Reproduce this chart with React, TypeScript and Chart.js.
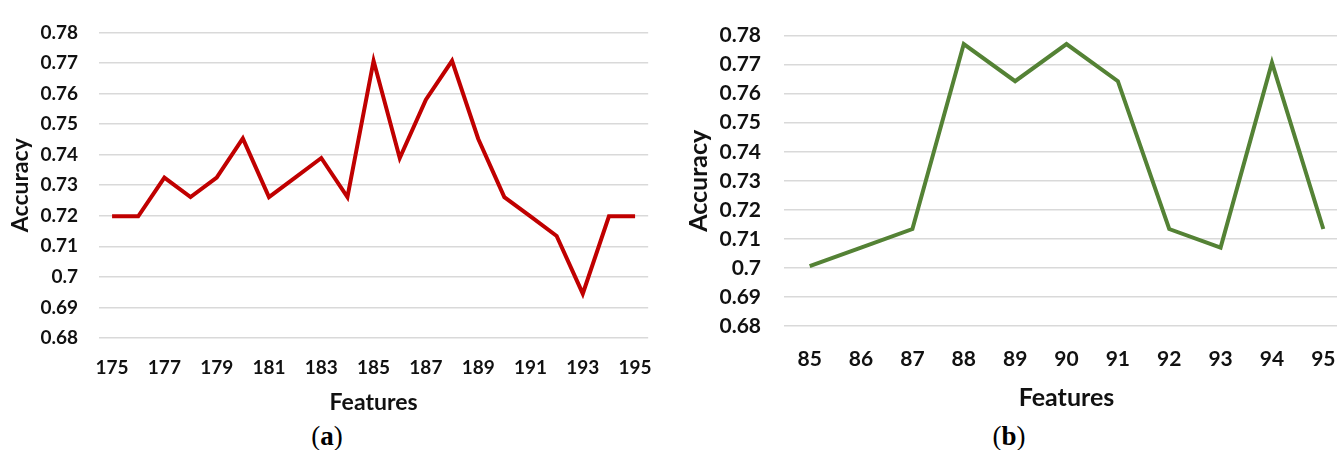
import React, { useEffect, useRef } from 'react';
import { Chart, registerables } from 'chart.js';

Chart.register(...registerables);

// ---- Data ----
const featuresA = ['175', '176', '177', '178', '179', '180', '181', '182', '183', '184', '185', '186', '187', '188', '189', '190', '191', '192', '193', '194', '195'];
const accuracyA = [0.7198, 0.7198, 0.7325, 0.7261, 0.7325, 0.7453, 0.7261, 0.7325, 0.7389, 0.7261, 0.7707, 0.7389, 0.758, 0.7707, 0.7452, 0.7261, 0.7198, 0.7134, 0.6945, 0.7198, 0.7198];

const featuresB = ['85', '86', '87', '88', '89', '90', '91', '92', '93', '94', '95'];
const accuracyB = [0.7006, 0.707, 0.7134, 0.7771, 0.7643, 0.7771, 0.7643, 0.7134, 0.707, 0.7707, 0.7134];

const yTicks = [0.68, 0.69, 0.7, 0.71, 0.72, 0.73, 0.74, 0.75, 0.76, 0.77, 0.78];
const yMin = 0.68;
const yMax = 0.78;

const xTitle = 'Features';
const yTitle = 'Accuracy';

type Params = {
  labels: string[];
  values: number[];
  color: string;
  padTop: number;
  padRight: number;
  yWidth: number;
  xHeight: number;
  yTickPad: number;
  xTickPad: number;
  yTickSize: number;
  xTickSize: number;
  xTickWeight: string;
  titleSize: number;
  yTitlePad: number;
  xStep: number;
};

function makeConfig(p: Params): any {
  const FONT = 'Lato, Carlito, "Open Sans", sans-serif';
  return {
    type: 'line',
    data: {
      labels: p.labels,
      datasets: [
        {
          data: p.values,
          borderColor: p.color,
          backgroundColor: p.color,
          borderWidth: 4,
          pointRadius: 0,
          pointHoverRadius: 0,
          tension: 0,
          fill: false,
          borderJoinStyle: 'miter',
        },
      ],
    },
    options: {
      animation: false,
      responsive: false,
      maintainAspectRatio: false,
      layout: { padding: { top: p.padTop, right: p.padRight, left: 0, bottom: 0 } },
      plugins: { legend: { display: false }, tooltip: { enabled: false } },
      scales: {
        x: {
          type: 'category',
          offset: true,
          grid: { display: false, drawTicks: false },
          border: { display: false },
          ticks: {
            autoSkip: false,
            maxRotation: 0,
            minRotation: 0,
            padding: p.xTickPad,
            color: '#111',
            font: { family: FONT, size: p.xTickSize, weight: p.xTickWeight },
            callback: (_v: any, i: number) => (i % p.xStep === 0 ? p.labels[i] : ''),
          },
          title: {
            display: true,
            text: xTitle,
            color: '#111',
            padding: 0,
            font: { family: FONT, size: p.titleSize, weight: 'bold' },
          },
          afterFit: (s: any) => {
            s.height = p.xHeight;
          },
        },
        y: {
          min: yMin,
          max: yMax,
          grid: { color: '#d9d9d9', lineWidth: 1.5, drawTicks: false },
          border: { display: false },
          afterBuildTicks: (s: any) => {
            s.ticks = yTicks.map((v) => ({ value: v }));
          },
          ticks: {
            padding: p.yTickPad,
            color: '#111',
            font: { family: FONT, size: p.yTickSize, weight: 'bold' },
            callback: (v: any) => String(Number(Number(v).toFixed(2))),
          },
          title: {
            display: true,
            text: yTitle,
            color: '#111',
            padding: { top: p.yTitlePad, bottom: 0 },
            font: { family: FONT, size: p.titleSize, weight: 'bold' },
          },
          afterFit: (s: any) => {
            s.width = p.yWidth;
          },
        },
      },
    },
  };
}

function LineChart(props: { params: Params; left: number; top: number; width: number; height: number }) {
  const ref = useRef<HTMLCanvasElement | null>(null);
  useEffect(() => {
    if (!ref.current) return;
    const chart = new Chart(ref.current, makeConfig(props.params));
    return () => chart.destroy();
  }, []);
  return (
    <canvas
      ref={ref}
      width={props.width}
      height={props.height}
      style={{ position: 'absolute', left: props.left, top: props.top, width: props.width, height: props.height }}
    />
  );
}

const captionStyle: React.CSSProperties = {
  position: 'absolute',
  top: 421,
  transform: 'translateX(-50%)',
  fontFamily: '"Liberation Serif", "DejaVu Serif", serif',
  fontSize: 27,
  lineHeight: '30px',
  color: '#000',
  whiteSpace: 'nowrap',
};

export default function App() {
  const paramsA: Params = {
    labels: featuresA,
    values: accuracyA,
    color: '#C00000',
    padTop: 23,
    padRight: 16,
    yWidth: 99,
    xHeight: 78,
    yTickPad: 21,
    xTickPad: 18,
    yTickSize: 19,
    xTickSize: 19,
    xTickWeight: 'bold',
    titleSize: 23,
    yTitlePad: 7,
    xStep: 2,
  };
  const paramsB: Params = {
    labels: featuresB,
    values: accuracyB,
    color: '#548235',
    padTop: 28,
    padRight: 11,
    yWidth: 114,
    xHeight: 87,
    yTickPad: 23,
    xTickPad: 21,
    yTickSize: 21,
    xTickSize: 21,
    xTickWeight: 'bold',
    titleSize: 25,
    yTitlePad: 14,
    xStep: 1,
  };
  return (
    <div
      style={{
        position: 'fixed',
        left: 0,
        top: 0,
        width: 1337,
        height: 450,
        overflow: 'hidden',
        background: '#fff',
      }}
    >
      <LineChart params={paramsA} left={0} top={0} width={670} height={416} />
      <LineChart params={paramsB} left={670} top={0} width={690} height={413} />
      <div style={{ ...captionStyle, left: 327 }}>
        (<b>a</b>)
      </div>
      <div style={{ ...captionStyle, left: 1009 }}>
        (<b>b</b>)
      </div>
    </div>
  );
}
